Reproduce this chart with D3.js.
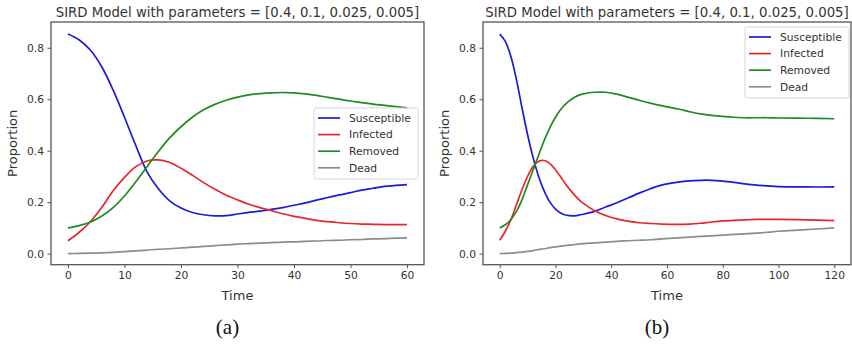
<!DOCTYPE html>
<html lang="en">
<head>
  <meta charset="UTF-8">
  <title>SIRD Model</title>
  <script src="https://d3js.org/d3.v7.min.js"></script>
  <style>
    body { margin: 0; background: #fff; }
    svg text { font-family: "DejaVu Sans", sans-serif; fill: #333; }
    .tick text { font-size: 10.7px; }
    .caption { font-family: "Liberation Serif", serif; font-size: 21px; fill: #111; }
  </style>
</head>
<body>
  <div id="chart"></div>

  <script>
    // panel (a): time 0..60
    const timeA = [0, 2, 4, 6, 8, 10, 12, 14, 16, 18, 20, 22, 24, 26, 28, 30,
      32, 34, 36, 38, 40, 42, 44, 46, 48, 50, 52, 54, 56, 58, 60];
    const susceptibleA = [0.853, 0.83, 0.79, 0.725, 0.635, 0.53, 0.42, 0.318, 0.252, 0.205, 0.177, 0.16, 0.151, 0.147, 0.148, 0.154,
      0.16, 0.165, 0.172, 0.179, 0.188, 0.197, 0.208, 0.218, 0.228, 0.237, 0.247, 0.254, 0.261, 0.265, 0.268];
    const infectedA = [0.05, 0.083, 0.125, 0.18, 0.244, 0.296, 0.338, 0.36, 0.364, 0.354, 0.332, 0.305, 0.276, 0.25, 0.227, 0.209,
      0.192, 0.179, 0.167, 0.155, 0.145, 0.137, 0.129, 0.124, 0.12, 0.117, 0.115, 0.114, 0.113, 0.113, 0.113];
    const removedA = [0.1, 0.109, 0.123, 0.146, 0.179, 0.224, 0.279, 0.338, 0.397, 0.45, 0.493, 0.53, 0.559, 0.58, 0.596, 0.608,
      0.617, 0.622, 0.625, 0.626, 0.625, 0.621, 0.615, 0.607, 0.6, 0.593, 0.587, 0.581, 0.576, 0.571, 0.566];
    const deadA = [0, 0.001, 0.002, 0.003, 0.005, 0.008, 0.011, 0.014, 0.017, 0.019, 0.022, 0.025, 0.028, 0.031, 0.034, 0.037,
      0.039, 0.041, 0.043, 0.045, 0.046, 0.048, 0.049, 0.051, 0.052, 0.054, 0.055, 0.057, 0.058, 0.06, 0.061];

    // panel (b): time 0..120
    const timeB = [0, 2, 4, 6, 8, 10, 12, 14, 16, 18, 20, 22, 24, 26, 28, 30,
      34, 38, 42, 46, 50, 54, 58, 64, 68, 72, 76, 80, 84, 88, 92, 96, 100, 110, 120];
    const susceptibleB = [0.853, 0.825, 0.766, 0.676, 0.566, 0.462, 0.372, 0.298, 0.242, 0.2, 0.173, 0.157, 0.149, 0.147, 0.149, 0.153,
      0.164, 0.181, 0.198, 0.216, 0.235, 0.252, 0.266, 0.278, 0.283, 0.285, 0.285, 0.282, 0.277, 0.271, 0.266, 0.263, 0.26, 0.259, 0.259];
    const infectedB = [0.052, 0.087, 0.132, 0.19, 0.249, 0.30, 0.339, 0.359, 0.362, 0.35, 0.326, 0.296, 0.265, 0.238, 0.214, 0.195,
      0.167, 0.148, 0.135, 0.126, 0.12, 0.117, 0.115, 0.114, 0.115, 0.118, 0.123, 0.127, 0.129, 0.131, 0.133, 0.133, 0.133, 0.131, 0.128];
    const removedB = [0.1, 0.112, 0.132, 0.164, 0.21, 0.268, 0.326, 0.384, 0.441, 0.49, 0.53, 0.562, 0.585, 0.602, 0.614, 0.621,
      0.627, 0.627, 0.62, 0.608, 0.596, 0.585, 0.575, 0.562, 0.552, 0.543, 0.537, 0.533, 0.53, 0.528, 0.528, 0.528, 0.527, 0.526, 0.524];
    const deadB = [0, 0.001, 0.002, 0.004, 0.006, 0.009, 0.012, 0.016, 0.019, 0.023, 0.026, 0.029, 0.032, 0.034, 0.037, 0.039,
      0.042, 0.045, 0.048, 0.05, 0.052, 0.054, 0.057, 0.061, 0.064, 0.067, 0.069, 0.072, 0.075, 0.077, 0.08, 0.083, 0.087, 0.093, 0.1];

    const seriesNames = ["Susceptible", "Infected", "Removed", "Dead"];
    const seriesColors = ["#1a1ad8", "#e8262a", "#1f8a1f", "#8c8c8c"];
    const yTicks = [0.0, 0.2, 0.4, 0.6, 0.8];
    const xTicksA = [0, 10, 20, 30, 40, 50, 60];
    const xTicksB = [0, 20, 40, 60, 80, 100, 120];
    const titleText = "SIRD Model with parameters = [0.4, 0.1, 0.025, 0.005]";

    const svg = d3.select("#chart").append("svg")
      .attr("width", 852)
      .attr("height", 345);

    function drawPanel(p) {
      const x = d3.scaleLinear().domain(p.xDomain).range([p.left, p.right]);
      const y = d3.scaleLinear().domain([-0.043, 0.9]).range([p.bottom, p.top]);
      const g = svg.append("g");

      const line = d3.line()
        .x(d => x(d[0]))
        .y(d => y(d[1]))
        .curve(d3.curveCatmullRom.alpha(0.5));

      p.series.forEach((vals, i) => {
        g.append("path")
          .datum(p.time.map((t, j) => [t, vals[j]]))
          .attr("fill", "none")
          .attr("stroke", seriesColors[i])
          .attr("stroke-width", 1.7)
          .attr("d", line);
      });

      // frame
      g.append("rect")
        .attr("x", p.left).attr("y", p.top)
        .attr("width", p.right - p.left).attr("height", p.bottom - p.top)
        .attr("fill", "none").attr("stroke", "#555").attr("stroke-width", 1.3);

      const xAxis = g.append("g")
        .attr("transform", `translate(0,${p.bottom})`)
        .call(d3.axisBottom(x).tickValues(p.xTicks).tickSize(3.5).tickPadding(3.5).tickFormat(d3.format("d")));
      const yAxis = g.append("g")
        .attr("transform", `translate(${p.left},0)`)
        .call(d3.axisLeft(y).tickValues(yTicks).tickSize(3.5).tickPadding(3.5).tickFormat(d3.format(".1f")));
      [xAxis, yAxis].forEach(a => {
        a.select(".domain").remove();
        a.selectAll(".tick line").attr("stroke", "#555");
        a.attr("font-family", null).attr("font-size", null);
      });

      const cx = (p.left + p.right) / 2;
      g.append("text")
        .attr("x", cx).attr("y", 17)
        .attr("text-anchor", "middle")
        .style("font-size", "13.3px")
        .text(titleText);

      g.append("text")
        .attr("x", cx).attr("y", 300)
        .attr("text-anchor", "middle")
        .style("font-size", "13px")
        .text("Time");

      g.append("text")
        .attr("transform", `translate(${p.left - 34},${(p.top + p.bottom) / 2}) rotate(-90)`)
        .attr("text-anchor", "middle")
        .style("font-size", "13px")
        .text("Proportion");

      g.append("text")
        .attr("class", "caption")
        .attr("x", cx - 10).attr("y", 334)
        .attr("text-anchor", "middle")
        .text(p.caption);

      // legend
      const lg = g.append("g").attr("transform", `translate(${p.legend[0]},${p.legend[1]})`);
      lg.append("rect")
        .attr("width", 104).attr("height", 71).attr("rx", 2.5)
        .attr("fill", "#fff").attr("fill-opacity", 0.85)
        .attr("stroke", "#d6d6d6");
      const rows = lg.selectAll("g.row")
        .data(seriesNames)
        .enter().append("g")
        .attr("class", "row")
        .attr("transform", (d, i) => `translate(0,${10 + i * 16.6})`);
      rows.append("line")
        .attr("x1", 4).attr("x2", 26)
        .attr("stroke", (d, i) => seriesColors[i])
        .attr("stroke-width", 1.7);
      rows.append("text")
        .attr("x", 35).attr("dy", "0.35em")
        .style("font-size", "10.7px")
        .text(d => d);
    }

    drawPanel({
      left: 51, right: 424, top: 22, bottom: 264.7,
      xDomain: [-3, 63], xTicks: xTicksA, time: timeA,
      series: [susceptibleA, infectedA, removedA, deadA],
      legend: [314, 108], caption: "(a)"
    });

    drawPanel({
      left: 483, right: 851, top: 22, bottom: 264.7,
      xDomain: [-6, 126], xTicks: xTicksB, time: timeB,
      series: [susceptibleB, infectedB, removedB, deadB],
      legend: [745, 27], caption: "(b)"
    });
  </script>
</body>
</html>
